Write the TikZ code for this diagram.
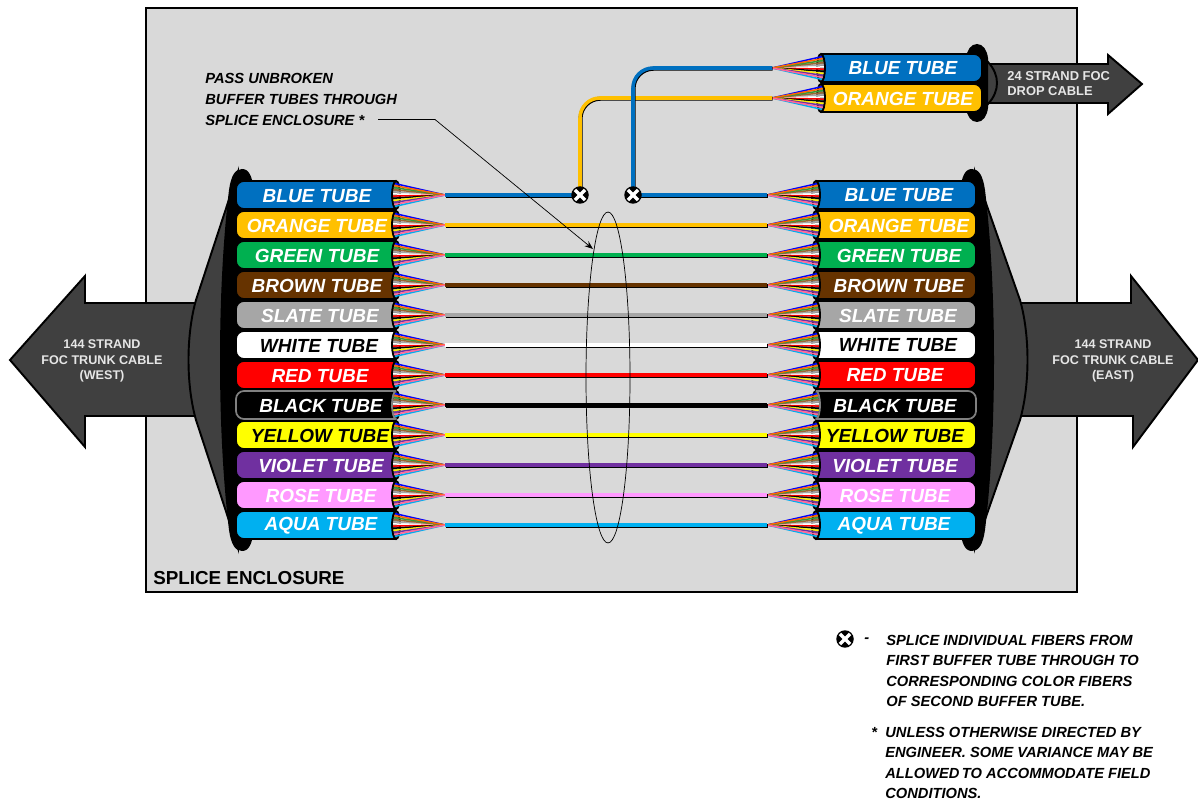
\documentclass[tikz,border=0pt]{standalone}
\usepackage{fontspec}
\setmainfont{Liberation Sans}
\usetikzlibrary{arrows.meta,shapes.geometric}
\definecolor{tubeblue}{HTML}{0070C0}
\definecolor{tubeorange}{HTML}{FFC000}
\definecolor{tubegreen}{HTML}{00B050}
\definecolor{tubebrown}{HTML}{663300}
\definecolor{tubeslate}{HTML}{A6A6A6}
\definecolor{tubewhite}{HTML}{FFFFFF}
\definecolor{tubered}{HTML}{FF0000}
\definecolor{tubeblack}{HTML}{000000}
\definecolor{tubeyellow}{HTML}{FFFF00}
\definecolor{tubeviolet}{HTML}{7030A0}
\definecolor{tuberose}{HTML}{FF99FF}
\definecolor{tubeaqua}{HTML}{00B0F0}
\definecolor{tubeedge}{HTML}{808080}
\definecolor{enclosure}{HTML}{D9D9D9}
\definecolor{trunk}{HTML}{404040}
\definecolor{trunktext}{HTML}{E6E6E6}
\definecolor{fibreorange}{HTML}{FF6600}
\definecolor{fibregreen}{HTML}{339933}
\definecolor{fibrebrown}{HTML}{996633}
\definecolor{fibrerose}{HTML}{FF6699}
\tikzset{
    tubelabel/.style={inner sep=0pt,font=\fontsize{10.8}{13}\selectfont\bfseries\itshape},
    tubebody/.style={line width=1pt,line join=round},
    fibre/.style={line width=0.85pt},
    cable/.style={draw=#1,line width=2pt,
        preaction={draw=black,line width=2.3pt,transform canvas={xshift=0.3pt,yshift=-0.4pt}}},
    trunkshape/.style={fill=trunk,draw=black,line width=1.1pt,line join=miter},
    trunklabel/.style={inner sep=0pt,align=center,text=trunktext,font=\fontsize{7.17}{8.8}\selectfont\bfseries},
    note/.style={inner sep=0pt,anchor=west,align=left,font=\fontsize{8.35}{11.7}\selectfont\bfseries\itshape},
    splicearm/.style={white,line width=2pt,shorten <=3pt,shorten >=3pt},
    splicept/.style={circle,fill=black,inner sep=0pt,minimum size=0.35cm,
        path picture={
            \draw[splicearm] (path picture bounding box.north west) -- (path picture bounding box.south east);
            \draw[splicearm] (path picture bounding box.north east) -- (path picture bounding box.south west);}}
}
\newcommand{\fanfibres}[3]{%
    \foreach \fibcol/\fibno in {blue/1,cyan/12,tubeslate/5,white/6,red/7,black/8,yellow/9,fibrebrown/4,tubeviolet/10,fibregreen/3,fibreorange/2,fibrerose/11}
        \draw[fibre,\fibcol] ({#1},{-#2+14.3-2.2*\fibno}) -- ({#3},{-#2});
}
\begin{document}
\begin{tikzpicture}[>=Stealth,x=0.02cm,y=0.02cm]
    \useasboundingbox (0,0) rectangle (1198,-804);
    \draw [fill=enclosure,line width=1.6pt] (146,-8) rectangle (1077,-592);

    \draw [trunkshape] (200,-303) -- (85,-303) -- (85,-276) -- (10,-360) -- (85,-447) -- (85,-416) -- (200,-416) -- cycle;
    \draw [trunkshape] (1010,-303) -- (1131,-303) -- (1131,-276) -- (1198,-360) -- (1133,-447) -- (1133,-416) -- (1010,-416) -- cycle;
    \draw [trunkshape] (985,-64) -- (1108,-64) -- (1108,-55) -- (1142,-84) -- (1108,-114) -- (1108,-103) -- (985,-103) -- cycle;

    \draw [trunkshape] (238,-172) -- (196,-300) .. controls (186,-335) and (186,-385) .. (196,-420) -- (238,-548) -- cycle;
    \draw [trunkshape] (975,-172) -- (1020,-300) .. controls (1030,-335) and (1030,-385) .. (1020,-420) -- (975,-548) -- cycle;
    \draw [trunkshape] (978,-50) -- (988,-62) .. controls (1000,-75) and (1000,-91) .. (988,-104) -- (978,-116) -- cycle;
    \fill (242,-169) .. controls (235,-169) and (231,-176) .. (229,-190) .. controls (223,-240) and (220,-300) .. (220,-360)
        .. controls (220,-420) and (223,-480) .. (229,-530) .. controls (231,-544) and (235,-551) .. (242,-551)
        .. controls (249,-551) and (252,-544) .. (254,-530) -- (254,-190) .. controls (252,-176) and (249,-169) .. (242,-169) -- cycle;
    \fill (972,-169) .. controls (979,-169) and (983,-176) .. (985,-190) .. controls (991,-240) and (994,-300) .. (994,-360)
        .. controls (994,-420) and (991,-480) .. (985,-530) .. controls (983,-544) and (979,-551) .. (972,-551)
        .. controls (965,-551) and (962,-544) .. (960,-530) -- (960,-190) .. controls (962,-176) and (965,-169) .. (972,-169) -- cycle;
    \fill (977,-44) .. controls (983,-44) and (987,-50) .. (988,-58) -- (988,-108) .. controls (987,-116) and (983,-122) .. (977,-122)
        .. controls (971,-122) and (967,-116) .. (966,-108) -- (966,-58) .. controls (967,-50) and (971,-44) .. (977,-44) -- cycle;

    \foreach \name/\word/\ink/\edge/\rowy/\lx/\rx in {
        blue/BLUE/white/black/195/317/899,
        orange/ORANGE/white/black/225/317/899,
        green/GREEN/white/black/255/317/899,
        brown/BROWN/white/black/285/317/899,
        slate/SLATE/white/black/315/320/898,
        white/WHITE/black/black/345/319/898,
        red/RED/white/black/375/320/895,
        black/BLACK/white/tubeedge/405/321/895,
        yellow/YELLOW/black/black/435/320/895,
        violet/VIOLET/white/black/465/321/895,
        rose/ROSE/white/black/495/321/895,
        aqua/AQUA/white/black/525/321/894} {
        \coordinate (ltip\name) at (445,-\rowy);
        \coordinate (rtip\name) at (767,-\rowy);
        \fill (242,-\rowy+15) rectangle (396,-\rowy-15);
        \fill (816,-\rowy+15) rectangle (970,-\rowy-15);
        \draw [fill=tubeedge,line width=1.1pt] (396,-\rowy) ellipse [x radius=4,y radius=14];
        \draw [fill=tubeedge,line width=1.1pt] (816,-\rowy) ellipse [x radius=4,y radius=14];
        \fanfibres{392}{\rowy}{445}
        \fanfibres{820}{\rowy}{767}
        \draw [tubebody,draw=\edge,fill=tube\name] (396,-\rowy+14) [rounded corners=0.16cm] -- (236,-\rowy+14) -- (236,-\rowy-14) [sharp corners] -- (396,-\rowy-14)
            arc [start angle=270,end angle=90,x radius=4,y radius=14];
        \draw [tubebody,draw=\edge,fill=tube\name] (816,-\rowy+14) [rounded corners=0.16cm] -- (976,-\rowy+14) -- (976,-\rowy-14) [sharp corners] -- (816,-\rowy-14)
            arc [start angle=-90,end angle=90,x radius=4,y radius=14];
        \node [tubelabel,text=\ink] (l\name) at (\lx,-\rowy-1) {\word\ TUBE};
        \node [tubelabel,text=\ink] (r\name) at (\rx,-\rowy-0.5) {\word\ TUBE};
    }

    \fill (825,-53) rectangle (977,-113);
    \foreach \name/\word/\rowy in {blue/BLUE/68,orange/ORANGE/98} {
        \coordinate (dtip\name) at (772,-\rowy);
        \draw [fill=tubeedge,line width=1.1pt] (821,-\rowy) ellipse [x radius=4,y radius=14];
        \fanfibres{825}{\rowy}{772}
        \draw [tubebody,fill=tube\name] (821,-\rowy+14) [rounded corners=0.16cm] -- (982,-\rowy+14) -- (982,-\rowy-14) [sharp corners] -- (821,-\rowy-14)
            arc [start angle=-90,end angle=90,x radius=4,y radius=14];
        \node [tubelabel,text=white] (d\name) at (903,-\rowy-0.5) {\word\ TUBE};
    }

    \foreach \name in {orange,green,brown,slate,white,red,black,yellow,violet,rose,aqua}
        \draw [cable=tube\name] (ltip\name) -- (rtip\name);

    \coordinate (spleft) at (580,-195);
    \coordinate (spright) at (633,-195);
    \draw [cable=tubeblue] (ltipblue) -- (spleft);
    \draw [cable=tubeblue] (rtipblue) -- (spright);
    \draw [cable=tubeorange,rounded corners=0.4cm] (spleft) |- (dtiporange);
    \draw [cable=tubeblue,rounded corners=0.4cm] (spright) |- (dtipblue);
    \node [splicept] (sp1) at (spleft) {};
    \node [splicept] (sp2) at (spright) {};

    \node [draw,ellipse,inner sep=0pt,line width=0.4pt,minimum width=0.88cm,minimum height=6.62cm] (ring) at (608,-377.5) {};
    \coordinate (notefoot) at (378,-119.5);
    \coordinate (ringpoint) at (593,-249);
    \draw [->,line width=0.4pt] (notefoot) -- (435,-119.5) -- (ringpoint);

    \node [note] (passnote) at (205,-99.5) {PASS UNBROKEN\\BUFFER TUBES THROUGH\\SPLICE ENCLOSURE *};
    \node [inner sep=0pt,anchor=west,font=\fontsize{10.7}{13}\selectfont\bfseries] (enclabel) at (153,-578) {SPLICE ENCLOSURE};

    \node [trunklabel] (westlabel) at (102,-361) {144 STRAND\\FOC TRUNK CABLE\\(WEST)};
    \node [trunklabel] (eastlabel) at (1113,-361) {144 STRAND\\FOC TRUNK CABLE\\(EAST)};
    \node [trunklabel,anchor=west,align=left,font=\fontsize{7.35}{8.6}\selectfont\bfseries] (droplabel) at (1007,-84) {24 STRAND FOC\\DROP CABLE};

    \node [splicept] (legsplice) at (845,-639) {};
    \node [note] (legdash) at (864,-640) {-};
    \node [note] (legone) at (886,-671) {SPLICE INDIVIDUAL FIBERS FROM\\FIRST BUFFER TUBE THROUGH TO\\CORRESPONDING COLOR FIBERS\\OF SECOND BUFFER TUBE.};
    \node [note] (legstar) at (871,-732) {*};
    \node [note] (legtwo) at (885,-763) {UNLESS OTHERWISE DIRECTED BY\\ENGINEER. SOME VARIANCE MAY BE\\ALLOWED\,TO ACCOMMODATE FIELD\\CONDITIONS.};
\end{tikzpicture}
\end{document}
